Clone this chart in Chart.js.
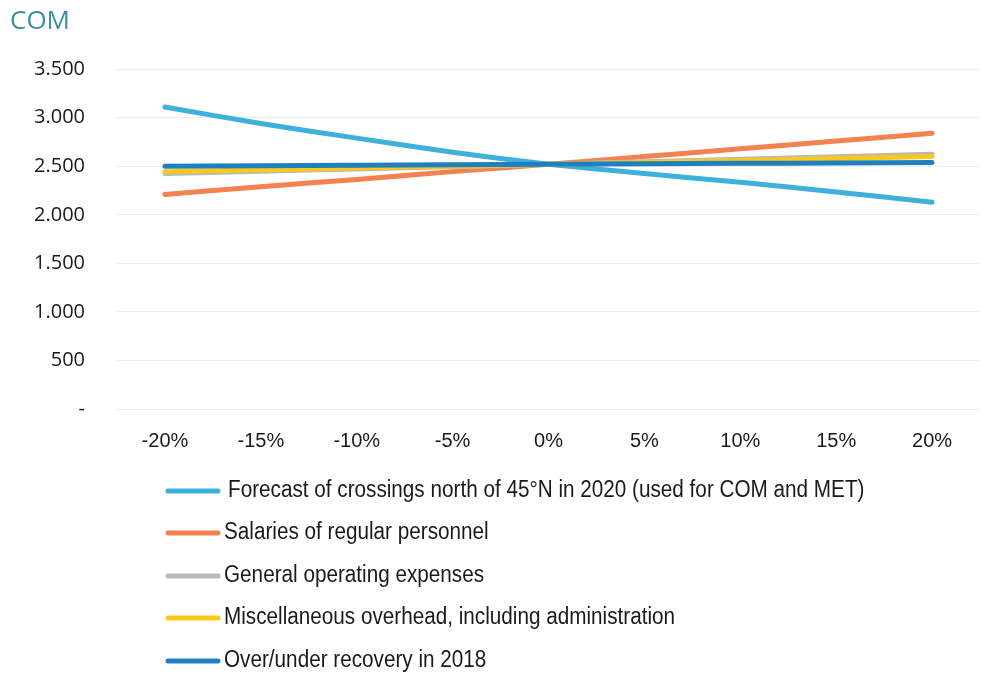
<!DOCTYPE html>
<html>
<head>
<meta charset="utf-8">
<script src="https://cdn.jsdelivr.net/npm/chart.js@4.4.1/dist/chart.umd.min.js"></script>
<style>
  html, body { margin: 0; padding: 0; background: #ffffff; }
  canvas { display: block; }
</style>
</head>
<body>
<canvas id="comChart" width="1007" height="692"></canvas>
<script>
// Sensitivity of the COM unit rate to changes in each input
const categories = ['-20%', '-15%', '-10%', '-5%', '0%', '5%', '10%', '15%', '20%'];

const forecastCrossings = [3110, 2940, 2790, 2645, 2520, 2425, 2335, 2235, 2130];
const salariesRegular   = [2210, 2290, 2365, 2445, 2520, 2600, 2680, 2760, 2840];
const generalOperating  = [2425, 2449, 2472, 2496, 2520, 2546, 2572, 2598, 2625];
const miscOverhead      = [2445, 2464, 2482, 2501, 2520, 2540, 2560, 2580, 2600];
const overUnderRecovery = [2500, 2505, 2510, 2515, 2520, 2525, 2530, 2535, 2540];

const seriesNames = [
    'Forecast of crossings north of 45°N in 2020 (used for COM and MET)',
    'Salaries of regular personnel',
    'General operating expenses',
    'Miscellaneous overhead, including administration',
    'Over/under recovery in 2018'
];
const seriesColors = ['#3db0dc', '#f2824f', '#b9b9b9', '#f8c81c', '#1f80c0'];
const seriesValues = [forecastCrossings, salariesRegular, generalOperating, miscOverhead, overUnderRecovery];

// vertical legend under the plot, one entry per row (text squeezed a bit horizontally)
const stackedLegend = {
    id: 'stackedLegend',
    afterDraw(chart) {
        const ctx = chart.ctx;
        const rowY = [491, 533, 576, 618, 661];
        const squeeze = 0.9;
        chart.data.datasets.forEach((ds, i) => {
            const y = rowY[i];
            ctx.save();
            ctx.strokeStyle = ds.borderColor;
            ctx.lineWidth = 5;
            ctx.lineCap = 'round';
            ctx.beginPath();
            ctx.moveTo(168, y);
            ctx.lineTo(218, y);
            ctx.stroke();
            ctx.restore();

            ctx.save();
            ctx.translate(i === 0 ? 228 : 224, y);
            ctx.scale(squeeze, 1);
            ctx.fillStyle = '#1a1a1a';
            ctx.font = '23px "Liberation Sans", sans-serif';
            ctx.textBaseline = 'middle';
            ctx.textAlign = 'left';
            ctx.fillText(ds.label, 0, 0);
            ctx.restore();
        });
    }
};

const ctx = document.getElementById('comChart').getContext('2d');
const comChart = new Chart(ctx, {
    type: 'line',
    data: {
        labels: categories,
        datasets: seriesValues.map((values, i) => ({
            label: seriesNames[i],
            data: values,
            borderColor: seriesColors[i],
            backgroundColor: seriesColors[i],
            borderWidth: 5,
            borderCapStyle: 'round',
            pointRadius: 0,
            fill: false,
            tension: 0.2,
            order: seriesValues.length - i
        }))
    },
    options: {
        responsive: false,
        animation: false,
        devicePixelRatio: 1,
        layout: {
            padding: { left: 10, right: 27, top: 0, bottom: 230 }
        },
        plugins: {
            legend: { display: false },
            tooltip: { enabled: false },
            title: {
                display: true,
                text: 'COM',
                align: 'start',
                color: '#3a8fa1',
                font: { family: '"Open Sans", sans-serif', size: 26, weight: 'normal' },
                padding: { top: 6, bottom: 32 }
            }
        },
        scales: {
            x: {
                offset: true,
                grid: { display: false },
                border: { display: false },
                ticks: {
                    color: '#1a1a1a',
                    padding: 12,
                    font: { family: '"Liberation Sans", sans-serif', size: 20 }
                },
                afterFit(scale) { scale.height = 53; }
            },
            y: {
                min: 0,
                max: 3500,
                grid: { color: '#ececec', lineWidth: 1, drawTicks: false },
                border: { display: false },
                ticks: {
                    stepSize: 500,
                    padding: 32,
                    color: '#1a1a1a',
                    font: { family: '"Open Sans", sans-serif', size: 20 },
                    callback: v => v === 0 ? '-' : v.toLocaleString('de-DE')
                },
                afterFit(scale) { scale.width = 107; }
            }
        }
    },
    plugins: [stackedLegend]
});
</script>
</body>
</html>
